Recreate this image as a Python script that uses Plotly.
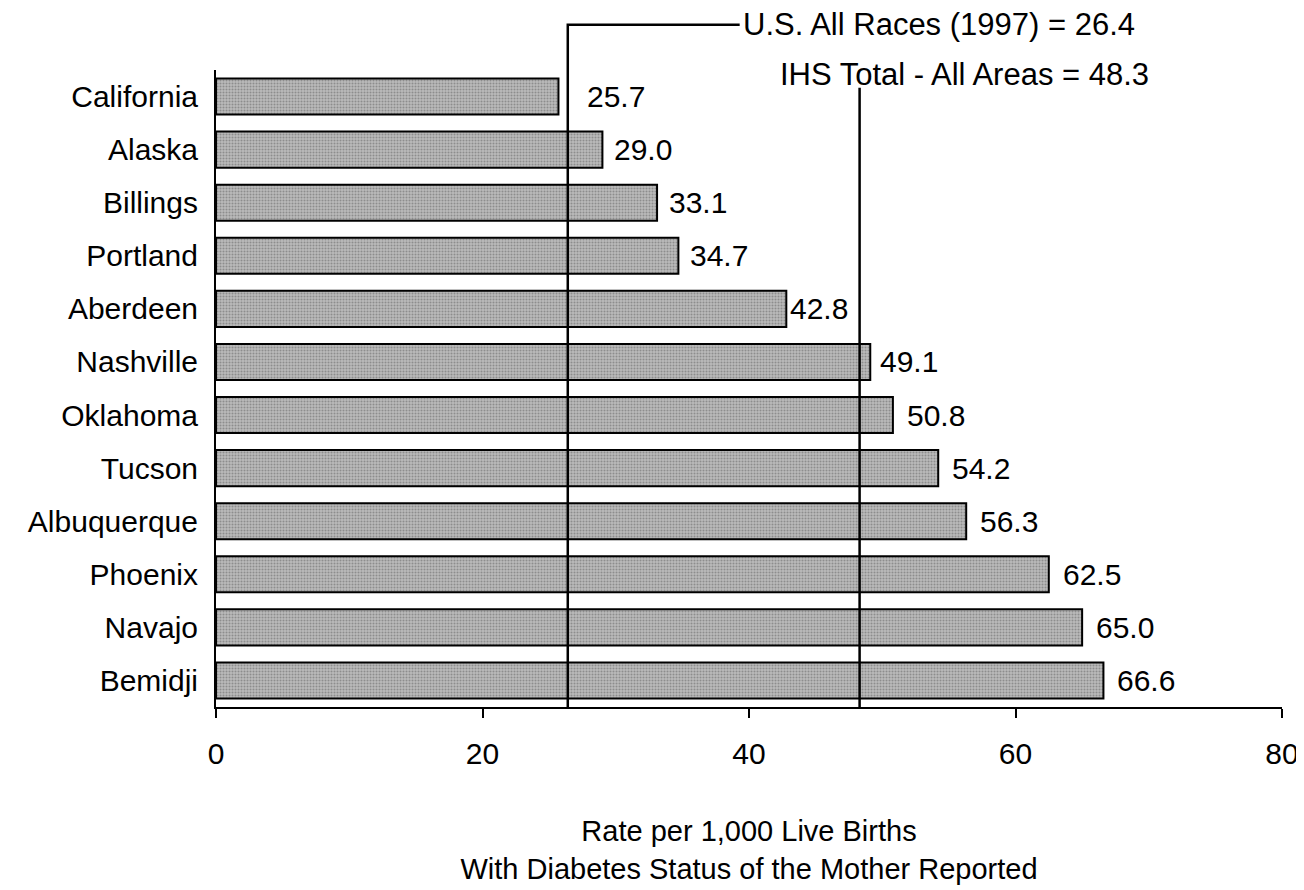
import plotly.graph_objects as go

areas = ["California", "Alaska", "Billings", "Portland", "Aberdeen", "Nashville",
         "Oklahoma", "Tucson", "Albuquerque", "Phoenix", "Navajo", "Bemidji"]
rates = [25.7, 29.0, 33.1, 34.7, 42.8, 49.1, 50.8, 54.2, 56.3, 62.5, 65.0, 66.6]
label_shift = [27, 10, 10, 10, 2, 8, 12, 12, 12, 12, 12, 12]

us_rate = 26.4
ihs_rate = 48.3
us_label = "U.S. All Races (1997) = 26.4"
ihs_label = "IHS Total - All Areas = 48.3"

x_ticks = [0, 20, 40, 60, 80]

FONT = "Arial, Liberation Sans, sans-serif"

fig = go.Figure()
fig.add_trace(go.Bar(
    x=rates,
    y=areas,
    orientation="h",
    width=0.68,
    marker=dict(
        color="#b4b4b4",
        line=dict(color="black", width=2),
        pattern=dict(shape=".", fgcolor="#5e5e5e", bgcolor="#bcbcbc", size=3, solidity=0.4),
    ),
    showlegend=False,
    hoverinfo="x+y",
))

# value labels to the right of each bar
for area, rate, shift in zip(areas, rates, label_shift):
    fig.add_annotation(
        x=rate, y=area, text=f"{rate:.1f}", showarrow=False,
        xanchor="left", xshift=shift, font=dict(size=30, color="black", family=FONT),
    )

# reference lines
fig.add_shape(
    type="path", xref="x", yref="paper",
    path=f"M {us_rate},0 L {us_rate},1.071 L 39.3,1.071",
    line=dict(color="black", width=2.5),
)
fig.add_shape(
    type="line", xref="x", yref="paper",
    x0=ihs_rate, x1=ihs_rate, y0=0, y1=0.972,
    line=dict(color="black", width=2.5),
)
fig.add_annotation(
    x=39.4, y=1.071, xref="x", yref="paper", text=us_label, showarrow=False,
    xanchor="left", yanchor="middle", font=dict(size=31, color="black", family=FONT),
)
fig.add_annotation(
    x=42.2, y=0.993, xref="x", yref="paper", text=ihs_label, showarrow=False,
    xanchor="left", yanchor="middle", font=dict(size=31, color="black", family=FONT),
)

# page body has an 8px margin, so the figure is 8px smaller each way
fig.update_layout(
    width=1296,
    height=882,
    margin=dict(l=208, r=22, t=62, b=183, autoexpand=False),
    paper_bgcolor="white",
    plot_bgcolor="white",
    font=dict(family=FONT, color="black", size=30),
    bargap=0.32,
)
fig.update_xaxes(
    range=[0, 80],
    tickvals=x_ticks,
    ticks="outside",
    ticklen=9,
    tickwidth=2,
    tickcolor="black",
    showline=True,
    linecolor="black",
    linewidth=2,
    showgrid=False,
    zeroline=False,
    automargin=False,
    tickfont=dict(size=30),
    ticklabelstandoff=10,
    title=dict(
        text="Rate per 1,000 Live Births<br>With Diabetes Status of the Mother Reported",
        font=dict(size=29),
        standoff=52,
    ),
)
fig.update_yaxes(
    categoryorder="array",
    categoryarray=areas,
    autorange="reversed",
    showline=True,
    linecolor="black",
    linewidth=2,
    showgrid=False,
    automargin=False,
    ticks="",
    tickfont=dict(size=30),
    ticklabelstandoff=10,
)

fig.write_html("out.html")
